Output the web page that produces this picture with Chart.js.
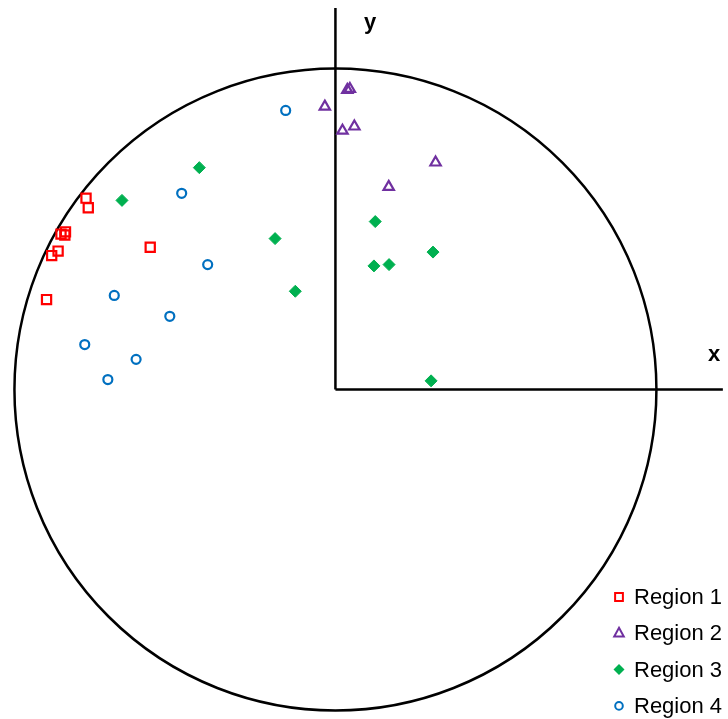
<!DOCTYPE html>
<html>
<head>
<meta charset="utf-8">
<script src="https://cdn.jsdelivr.net/npm/chart.js@4/dist/chart.umd.min.js"></script>
<style>
  html, body { margin: 0; padding: 0; background: #fff; }
  #wrap { width: 728px; height: 719px; position: relative; }
</style>
</head>
<body>
<div id="wrap"><canvas id="chart"></canvas></div>
<script>
// values, circle radius = 100
var region1X = [-77.7, -77.0, -85.5, -84.1, -84.3, -86.4, -88.4, -57.7, -90.0];
var region1Y = [59.6, 56.6, 48.4, 49.1, 48.1, 43.1, 41.7, 44.3, 28.0];

var region2X = [3.7, 4.5, -3.3, 2.2, 5.9, 31.2, 16.6];
var region2Y = [93.3, 93.6, 88.1, 80.6, 81.9, 70.7, 63.1];

var region3X = [-42.4, -66.5, -18.8, -12.5, 12.4, 30.4, 12.0, 16.7, 29.8];
var region3Y = [69.1, 58.9, 47.0, 30.6, 52.3, 42.8, 38.5, 38.9, 2.7];

var region4X = [-47.9, -39.8, -68.9, -51.6, -78.1, -62.1, -70.9, -15.5];
var region4Y = [61.1, 38.9, 29.3, 22.8, 14.0, 9.4, 3.1, 86.9];

var circleRadius = 100;
var xAxisEnd = 120.7;
var yAxisEnd = 118.8;

function toPoints(xs, ys) {
  return xs.map(function (x, i) { return { x: x, y: ys[i] }; });
}

function drawMarker(ctx, style, x, y, r, color) {
  ctx.save();
  ctx.strokeStyle = color;
  ctx.fillStyle = color;
  ctx.lineWidth = 2;
  ctx.beginPath();
  if (style === 'rect') {
    var s = Math.SQRT1_2 * r;
    ctx.rect(x - s, y - s, 2 * s, 2 * s);
    ctx.stroke();
  } else if (style === 'triangle') {
    ctx.moveTo(x, y - r);
    ctx.lineTo(x + r * 0.87, y + r * 0.6);
    ctx.lineTo(x - r * 0.87, y + r * 0.6);
    ctx.closePath();
    ctx.stroke();
  } else if (style === 'rectRot') {
    ctx.moveTo(x, y - r);
    ctx.lineTo(x + r, y);
    ctx.lineTo(x, y + r);
    ctx.lineTo(x - r, y);
    ctx.closePath();
    ctx.fill();
  } else {
    ctx.arc(x, y, r, 0, Math.PI * 2);
    ctx.stroke();
  }
  ctx.restore();
}

var backdrop = {
  id: 'backdrop',
  beforeDatasetsDraw: function (chart) {
    var ctx = chart.ctx;
    var xs = chart.scales.x, ys = chart.scales.y;
    var ox = xs.getPixelForValue(0), oy = ys.getPixelForValue(0);
    var rad = xs.getPixelForValue(circleRadius) - ox;
    ctx.save();
    ctx.strokeStyle = '#000';
    ctx.lineWidth = 2.5;
    ctx.beginPath();
    ctx.arc(ox, oy, rad, 0, Math.PI * 2);
    ctx.stroke();
    ctx.beginPath();
    ctx.moveTo(ox, oy);
    ctx.lineTo(xs.getPixelForValue(xAxisEnd), oy);
    ctx.moveTo(ox, oy);
    ctx.lineTo(ox, ys.getPixelForValue(yAxisEnd));
    ctx.stroke();
    ctx.fillStyle = '#000';
    ctx.font = 'bold 22px "Liberation Sans", Arial, sans-serif';
    ctx.textAlign = 'center';
    ctx.textBaseline = 'middle';
    ctx.fillText('x', 714, 355);
    ctx.fillText('y', 370, 23);
    ctx.restore();
  },
  afterDraw: function (chart) {
    var ctx = chart.ctx;
    ctx.save();
    ctx.font = '22px "Liberation Sans", Arial, sans-serif';
    ctx.fillStyle = '#000';
    ctx.textBaseline = 'middle';
    chart.data.datasets.forEach(function (ds, i) {
      var y = 597 + i * 36.3;
      drawMarker(ctx, ds.pointStyle, 619, y, ds.pointStyle === 'circle' ? 3.8 : 5.5, ds.borderColor);
      ctx.fillText(ds.label, 634, y + 1);
    });
    ctx.restore();
  }
};

new Chart(document.getElementById('chart'), {
  type: 'scatter',
  data: {
    datasets: [
      {
        label: 'Region 1',
        data: toPoints(region1X, region1Y),
        pointStyle: 'rect',
        pointRadius: 6.5,
        borderWidth: 2.2,
        borderColor: '#FF0000',
        backgroundColor: 'rgba(0,0,0,0)'
      },
      {
        label: 'Region 2',
        data: toPoints(region2X, region2Y),
        pointStyle: 'triangle',
        pointRadius: 6,
        borderWidth: 2.2,
        borderColor: '#7030A0',
        backgroundColor: 'rgba(0,0,0,0)'
      },
      {
        label: 'Region 3',
        data: toPoints(region3X, region3Y),
        pointStyle: 'rectRot',
        pointRadius: 6,
        borderWidth: 1,
        borderColor: '#00B050',
        backgroundColor: '#00B050'
      },
      {
        label: 'Region 4',
        data: toPoints(region4X, region4Y),
        pointStyle: 'circle',
        pointRadius: 4.5,
        borderWidth: 2.2,
        borderColor: '#0070C0',
        backgroundColor: 'rgba(0,0,0,0)'
      }
    ]
  },
  options: {
    responsive: true,
    maintainAspectRatio: false,
    animation: false,
    layout: { padding: 0, autoPadding: false },
    clip: false,
    plugins: {
      legend: { display: false },
      tooltip: { enabled: false }
    },
    scales: {
      x: { type: 'linear', min: -104.5, max: 122.3, display: false },
      y: { type: 'linear', min: -102.6, max: 121.3, display: false }
    }
  },
  plugins: [backdrop]
});
</script>
</body>
</html>
